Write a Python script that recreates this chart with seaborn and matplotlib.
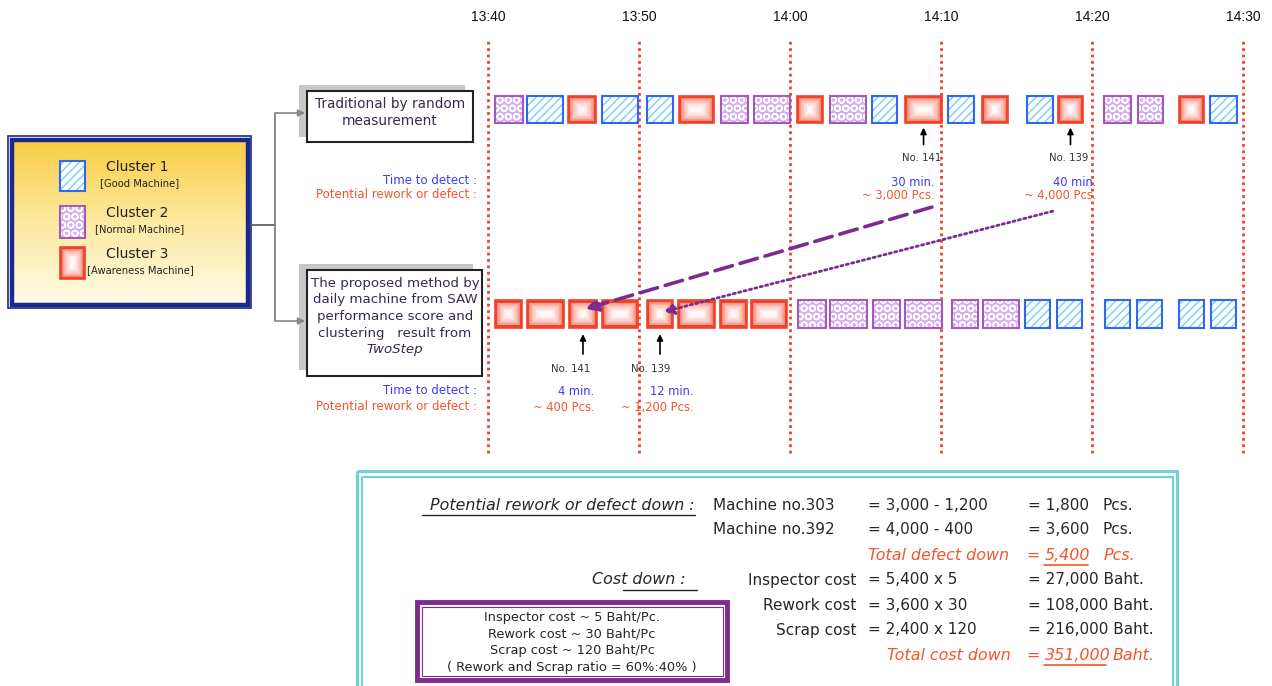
import numpy as np
import matplotlib
matplotlib.use("Agg")
import matplotlib.pyplot as plt
import seaborn as sns
from matplotlib.patches import Rectangle
from matplotlib.colors import LinearSegmentedColormap, to_rgb

# timeline (minutes after 13:40)
time_ticks = [0, 10, 20, 30, 40, 50]
time_labels = ["13:40", "13:50", "14:00", "14:10", "14:20", "14:30"]

# traditional method: machine slots (start, end in minutes) and cluster
trad_start = [0.46, 2.58, 5.30, 7.55, 10.53, 12.65, 15.43, 17.62, 20.46, 22.65,
              25.43, 27.62, 30.46, 32.72, 35.70, 37.75, 40.79, 43.05, 45.76, 47.81]
trad_end = [2.32, 4.97, 7.15, 9.93, 12.25, 14.97, 17.22, 20.00, 22.19, 25.03,
            27.09, 30.07, 32.19, 34.44, 37.42, 39.40, 42.58, 44.70, 47.42, 49.60]
trad_cluster = [2, 1, 3, 1, 1, 3, 2, 2, 3, 2, 1, 3, 1, 3, 1, 3, 2, 2, 3, 1]

# proposed method
prop_start = [0.46, 2.58, 5.36, 7.55, 10.53, 12.58, 15.36, 17.42, 20.53, 22.65,
              25.50, 27.62, 30.73, 32.78, 35.56, 37.68, 40.86, 42.98, 45.76, 47.88]
prop_end = [2.25, 5.03, 7.22, 9.93, 12.25, 15.03, 17.15, 19.80, 22.38, 25.10,
            27.28, 30.07, 32.45, 35.17, 37.22, 39.34, 42.52, 44.64, 47.42, 49.54]
prop_cluster = [3, 3, 3, 3, 3, 3, 3, 3, 2, 2, 2, 2, 2, 2, 1, 1, 1, 1, 1, 1]

detect_names = ["No. 141", "No. 139"]
trad_detect_idx = [11, 15]
prop_detect_idx = [2, 4]
trad_minutes = ["30 min.", "40 min."]
trad_pcs = ["~ 3,000 Pcs.", "~ 4,000 Pcs."]
prop_minutes = ["4 min.", "12 min."]
prop_pcs = ["~ 400 Pcs.", "~ 1,200 Pcs."]

cluster_names = ["Cluster 1", "Cluster 2", "Cluster 3"]
cluster_desc = ["[Good Machine]", "[Normal Machine]", "[Awareness Machine]"]

price_lines = ["Inspector cost ~ 5 Baht/Pc.", "Rework cost ~ 30 Baht/Pc",
               "Scrap cost ~ 120 Baht/Pc", "( Rework and Scrap ratio = 60%:40% )"]

RED = "#f0432c"
BLUE = "#2f66f5"
BLUE_HATCH = "#7fd2f4"
PURPLE = "#a35ab5"
PURPLE_FACE = "#d4aef3"
ARROW_PURPLE = "#7d2b8f"
TXT_BLUE = "#3b3bf5"
TXT_RED = "#f2552c"
VLINE = "#f0402a"

sns.set_theme(style="white")
plt.rcParams["font.family"] = ["DejaVu Sans"]
plt.rcParams["hatch.linewidth"] = 1.1

FW, FH = 1272, 686
fig = plt.figure(figsize=(FW / 100, FH / 100), dpi=100)

# layout axes in pixel units
lay = fig.add_axes([0, 0, 1, 1])
lay.axis("off")

# timeline axes
ax_l, ax_r, ax_t, ax_b = 488, 1243, 38, 453
ax = fig.add_axes([ax_l / FW, 1 - ax_b / FH, (ax_r - ax_l) / FW, (ax_b - ax_t) / FH])
ax.patch.set_alpha(0)
ax.set_xlim(0, 50)
ax.set_ylim(1.68, -0.35)
SX = (ax_r - ax_l) / 50.0
SY = (ax_b - ax_t) / 2.03
BOX_H = 27.5 / SY


def mix(c, t):
    c = np.array(to_rgb(c))
    return tuple(c + (1 - c) * t)


def draw_machine(a, x0, w, yc, h, cluster, sx, sy):
    if cluster == 1:
        a.barh(yc, w, left=x0, height=h, color="white", edgecolor=BLUE_HATCH,
               hatch="////", lw=0, zorder=3)
        a.barh(yc, w, left=x0, height=h, fill=False, edgecolor=BLUE, lw=1.5, zorder=4)
    elif cluster == 2:
        a.barh(yc, w, left=x0, height=h, color=PURPLE_FACE, edgecolor="white",
               hatch="OO", lw=0, zorder=3)
        a.barh(yc, w, left=x0, height=h, fill=False, edgecolor=PURPLE, lw=1.5, zorder=4)
    else:
        a.barh(yc, w, left=x0, height=h, color=RED, edgecolor=RED, lw=1.2, zorder=3)
        n = 14
        half = min(w * sx, h * sy) / 2
        for k in range(1, n):
            t = k / n
            ipx = 1.5 + t * (half - 1.5) * 0.9
            a.barh(yc, w - 2 * ipx / sx, left=x0 + ipx / sx, height=h - 2 * ipx / sy,
                   color=mix("#f3604a", t ** 0.5), lw=0, zorder=3)


for tk in time_ticks:
    ax.axvline(tk, color=VLINE, lw=2, linestyle=(0, (1, 1.3)), zorder=1, clip_on=False)

for s, e, c in zip(trad_start, trad_end, trad_cluster):
    draw_machine(ax, s, e - s, 0, BOX_H, c, SX, SY)
for s, e, c in zip(prop_start, prop_end, prop_cluster):
    draw_machine(ax, s, e - s, 1, BOX_H, c, SX, SY)

ax.xaxis.tick_top()
ax.set_xticks(time_ticks)
ax.set_xticklabels(time_labels, fontsize=10, color="#111111",
                   family=["Liberation Sans Narrow", "Liberation Sans", "DejaVu Sans"])
ax.tick_params(axis="x", length=0, pad=10)
ax.set_yticks([])
sns.despine(ax=ax, left=True, bottom=True, right=True, top=True)

# detection arrows and labels
for i, idx in enumerate(trad_detect_idx):
    xc = (trad_start[idx] + trad_end[idx]) / 2
    ax.annotate("", xy=(xc, 0.075), xytext=(xc, 0.185),
                arrowprops=dict(arrowstyle="-|>", color="black", lw=1.2, mutation_scale=9))
    ax.text(xc - 0.15, 0.235, detect_names[i], ha="center", va="center", fontsize=7.3, color="#333333")
for i, idx in enumerate(prop_detect_idx):
    xc = (prop_start[idx] + prop_end[idx]) / 2
    ax.annotate("", xy=(xc, 1.085), xytext=(xc, 1.21),
                arrowprops=dict(arrowstyle="-|>", color="black", lw=1.2, mutation_scale=9))

ax.text(5.5, 1.268, detect_names[0], ha="center", va="center", fontsize=7.3, color="#333333")
ax.text(10.8, 1.268, detect_names[1], ha="center", va="center", fontsize=7.3, color="#333333")

for xr, m, p in zip([29.6, 40.3], trad_minutes, trad_pcs):
    ax.text(xr, 0.355, m, ha="right", va="center", fontsize=8.3, color=TXT_BLUE)
    ax.text(xr, 0.418, p, ha="right", va="center", fontsize=8.3, color=TXT_RED)
for xm, xp, m, p in zip([5.8, 12.2], [5.0, 11.2], prop_minutes, prop_pcs):
    ax.text(xm, 1.381, m, ha="center", va="center", fontsize=8.3, color=TXT_BLUE)
    ax.text(xp, 1.455, p, ha="center", va="center", fontsize=8.3, color=TXT_RED)

# arrows linking detections between methods
ax.annotate("", xy=(6.45, 0.975), xytext=(29.4, 0.477),
            arrowprops=dict(arrowstyle="-|>", color=ARROW_PURPLE, lw=2.6,
                            linestyle=(0, (5, 2.2)), mutation_scale=18, shrinkA=0, shrinkB=0))
ax.annotate("", xy=(11.6, 0.99), xytext=(37.4, 0.497),
            arrowprops=dict(arrowstyle="-|>", color=ARROW_PURPLE, lw=2,
                            linestyle=(0, (0.8, 1.2)), mutation_scale=16, shrinkA=0, shrinkB=0))

# ---- legend box ----
grad = np.linspace(0, 1, 100).reshape(-1, 1)
cmap = LinearSegmentedColormap.from_list("yel", ["#f9cd42", "#fde9a0", "#fffbe6"])
lay.imshow(grad, extent=(12, 248, 305, 139), cmap=cmap, aspect="auto", zorder=1)
lay.add_patch(Rectangle((8, 136), 243, 172, fill=False, edgecolor="#1a2a8c", lw=1.2, zorder=2))
lay.add_patch(Rectangle((11.5, 139.5), 236, 165, fill=False, edgecolor="#1a2a8c", lw=3.2, zorder=2))

leg_y = [176, 222, 263]
leg_h = [30, 32, 32]
for k in range(3):
    draw_machine(lay, 60, 25, leg_y[k], leg_h[k], k + 1, 1, 1)
    lay.text(137, leg_y[k] - 9, cluster_names[k], ha="center", va="center", fontsize=10, color="#222222", zorder=5)
    lay.text(140, leg_y[k] + 7, cluster_desc[k], ha="center", va="center", fontsize=7.2, color="#222222", zorder=5)

# connectors
lay.plot([250, 275], [225, 225], color="#555555", lw=1.2)
lay.plot([275, 275], [113, 321], color="#777777", lw=1.2)
for yy in [113, 321]:
    lay.annotate("", xy=(305, yy), xytext=(275, yy),
                 arrowprops=dict(arrowstyle="-|>", color="#888888", lw=1.2, mutation_scale=10,
                                 shrinkA=0, shrinkB=0))

# method boxes
lay.add_patch(Rectangle((299, 85), 166, 52, color="#c8c8c8", lw=0, zorder=2))
lay.add_patch(Rectangle((307, 91), 166, 51, facecolor="white", edgecolor="#222222", lw=1.5, zorder=3))
lay.text(390, 104, "Traditional by random", ha="center", va="center", fontsize=9.8, color="#3a2850", zorder=4)
lay.text(390, 121, "measurement", ha="center", va="center", fontsize=9.8, color="#3a2850", zorder=4)

lay.add_patch(Rectangle((299, 264), 174, 106, color="#c8c8c8", lw=0, zorder=2))
lay.add_patch(Rectangle((307, 270), 175, 106, facecolor="white", edgecolor="#222222", lw=1.5, zorder=3))
box2 = ["The proposed method by", "daily machine from SAW", "performance score and",
        "clustering   result from"]
for k, line in enumerate(box2):
    lay.text(395, 283 + k * 16.8, line, ha="center", va="center", fontsize=9.6, color="#3a2850", zorder=4)
lay.text(395, 350, "TwoStep", ha="center", va="center", fontsize=9.6, style="italic", color="#3a2850", zorder=4)

for yt, yp in [(180, 195), (391, 406)]:
    lay.text(477, yt, "Time to detect :", ha="right", va="center", fontsize=8.5, color=TXT_BLUE)
    lay.text(477, yp, "Potential rework or defect :", ha="right", va="center", fontsize=8.5, color=TXT_RED)

# ---- cost summary box ----
CYAN = "#6fd2d6"
lay.add_patch(Rectangle((357, 471), 820, 230, fill=False, edgecolor=CYAN, lw=2.2, zorder=2))
lay.add_patch(Rectangle((361.5, 476.5), 811, 230, fill=False, edgecolor=CYAN, lw=1.5, zorder=2))

FS = 11
FSI = 11.4
DARK = "#262626"
lay.text(695, 505, "Potential rework or defect down :", ha="right", va="center", fontsize=FSI,
         style="italic", color=DARK)
lay.plot([422, 695], [515, 515], color=DARK, lw=1)
lay.text(686, 580, "Cost down :", ha="right", va="center", fontsize=FSI, style="italic", color=DARK)
lay.plot([623, 697], [590, 590], color=DARK, lw=1)

lay.text(713, 505, "Machine no.303", ha="left", va="center", fontsize=FS, color=DARK)
lay.text(713, 530, "Machine no.392", ha="left", va="center", fontsize=FS, color=DARK)
for yy, lab in zip([580, 605, 630], ["Inspector cost", "Rework cost", "Scrap cost"]):
    lay.text(856, yy, lab, ha="right", va="center", fontsize=FS, color=DARK)

col_c = ["= 3,000 - 1,200", "= 4,000 - 400", None, "= 5,400 x 5", "= 3,600 x 30", "= 2,400 x 120"]
col_d = ["= 1,800", "= 3,600", None, "= 27,000 Baht.", "= 108,000 Baht.", "= 216,000 Baht."]
for k, (c, d) in enumerate(zip(col_c, col_d)):
    yy = 505 + 25 * k
    if c:
        lay.text(868, yy, c, ha="left", va="center", fontsize=FS, color=DARK)
        lay.text(1028, yy, d, ha="left", va="center", fontsize=FS, color=DARK)
for yy in [505, 530]:
    lay.text(1102, yy, "Pcs.", ha="left", va="center", fontsize=FS, color=DARK)

lay.text(868, 555, "Total defect down", ha="left", va="center", fontsize=FSI, style="italic", color=TXT_RED)
lay.text(1026, 555, "=", ha="left", va="center", fontsize=FSI, style="italic", color=TXT_RED)
lay.text(1045, 555, "5,400", ha="left", va="center", fontsize=FSI, style="italic", color=TXT_RED)
lay.plot([1044, 1088], [565, 565], color=TXT_RED, lw=1.2)
lay.text(1104, 555, "Pcs.", ha="left", va="center", fontsize=FSI, style="italic", color=TXT_RED)

lay.text(1011, 655, "Total cost down", ha="right", va="center", fontsize=FSI, style="italic", color=TXT_RED)
lay.text(1026, 655, "=", ha="left", va="center", fontsize=FSI, style="italic", color=TXT_RED)
lay.text(1045, 655, "351,000", ha="left", va="center", fontsize=FSI, style="italic", color=TXT_RED)
lay.plot([1044, 1106], [665, 665], color=TXT_RED, lw=1.2)
lay.text(1113, 655, "Baht.", ha="left", va="center", fontsize=FSI, style="italic", color=TXT_RED)

# unit price box
lay.add_patch(Rectangle((417, 602), 310, 78, fill=False, edgecolor=ARROW_PURPLE, lw=3.5, zorder=2))
lay.add_patch(Rectangle((421.5, 606.5), 301, 69, fill=False, edgecolor=ARROW_PURPLE, lw=0.8, zorder=2))
for k, line in enumerate(price_lines):
    lay.text(572, 617 + k * 16.8, line, ha="center", va="center", fontsize=9.3, color=DARK)

lay.set_xlim(0, FW)
lay.set_ylim(FH, 0)

fig.savefig("out.png", dpi=100)
